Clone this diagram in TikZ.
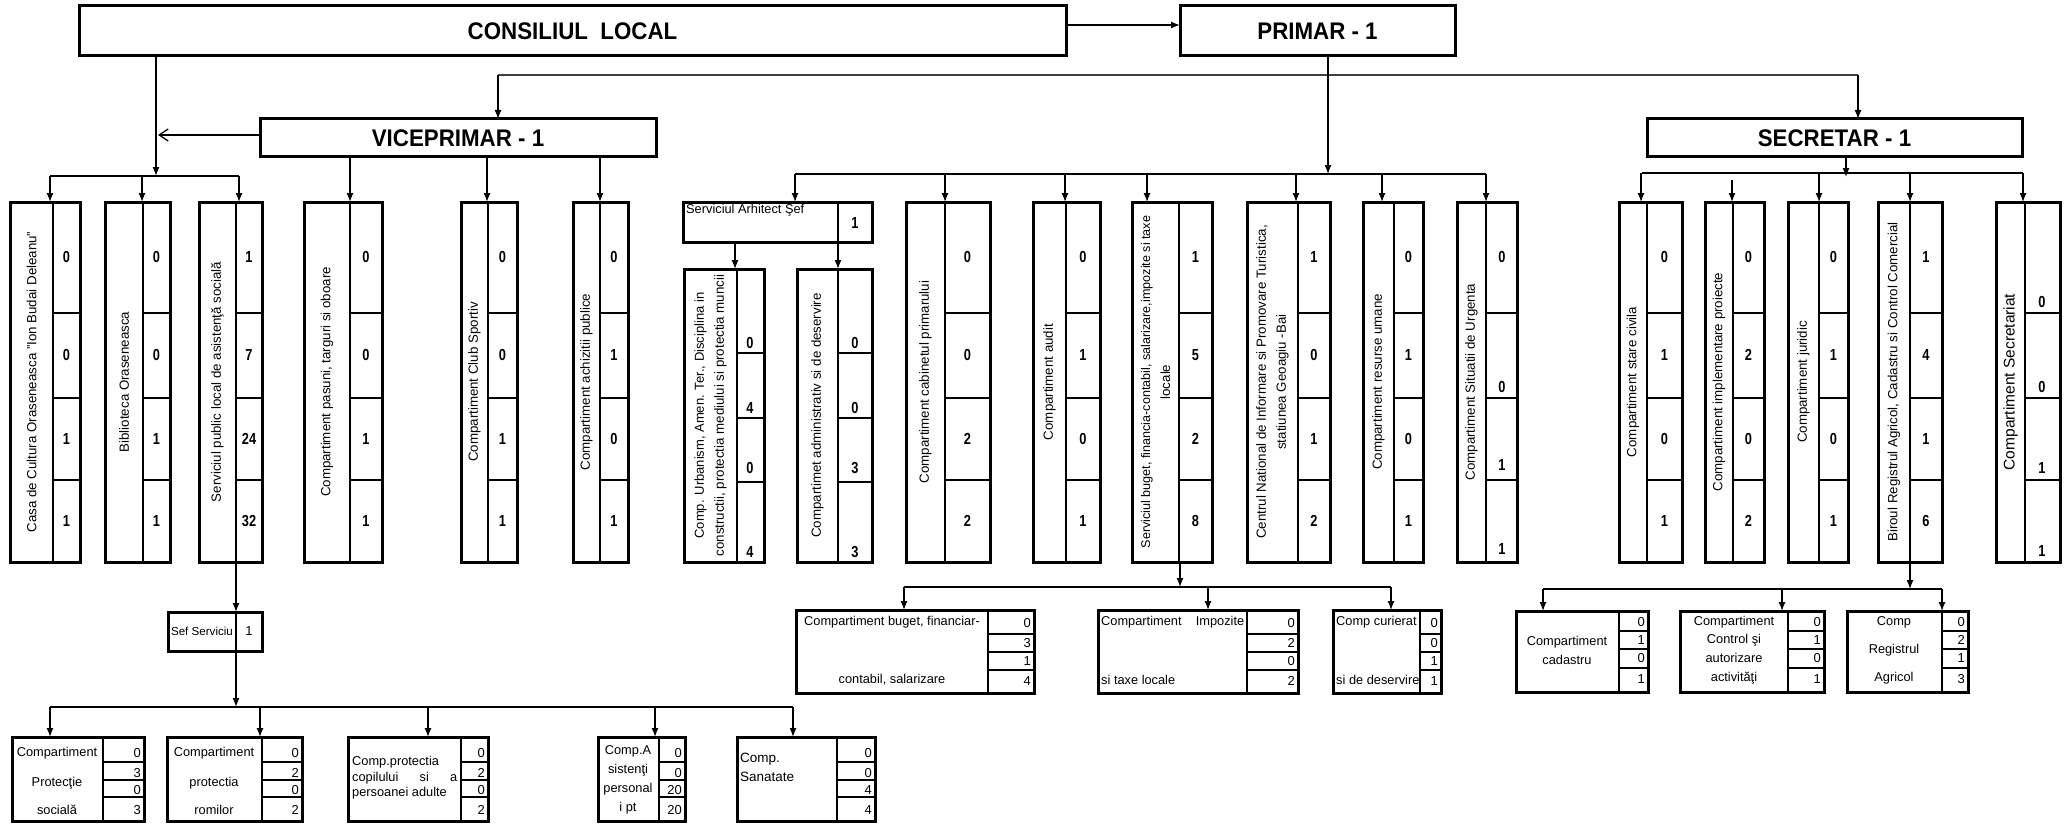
\documentclass[tikz,border=0pt]{standalone}
\usepackage{fontspec}
\setmainfont{Liberation Sans}
\newfontfamily\hdfont[FakeStretch=0.93]{Liberation Sans}
\newfontfamily\nbfont[FakeStretch=0.8]{Liberation Sans}
\usetikzlibrary{arrows.meta,fit}
\tikzset{
 frame/.style={draw, line width=3pt, inner sep=0pt, outer sep=0pt},
 divl/.style={line width=2.5pt},
 midl/.style={line width=1.8pt},
 thinl/.style={line width=1.1pt},
 conn/.style={line width=1.3pt},
 arr/.style={conn, -{Latex[length=9pt,width=7pt]}},
 openarr/.style={conn, -{Straight Barb[length=9pt,width=12pt]}},
 vtext/.style={rotate=90, align=center, inner sep=0pt, font=\fontsize{13.3}{20}\selectfont},
 bnum/.style={inner sep=0pt, font=\nbfont\bfseries\fontsize{16}{18}\selectfont},
 snum/.style={inner sep=0pt, anchor=east, font=\fontsize{13}{15}\selectfont},
 stxt/.style={inner sep=0pt, font=\fontsize{12.8}{15}\selectfont},
 stxtw/.style={stxt, anchor=west},
 hdtxt/.style={inner sep=0pt, font=\hdfont\bfseries\fontsize{24}{28}\selectfont},
}
% vertical box: name, xL, xD, xR, yT, yB, x of incoming arrow, text
\newcommand\vb[8]{%
 \node[frame, fit={(#2,#5)(#4,#6)}] (#1) {};
 \draw[divl] (#3,#5) -- (#3,#6);
 \coordinate (#1-in) at (#7,#5);
 \node[vtext] (#1-t) at ({(#2+#3)/2},{(#5+#6)/2}) {#8};
}
\newcommand\cstd[2]{\draw[divl] (#1,313) -- (#2,313) (#1,398) -- (#2,398) (#1,480) -- (#2,480);}
\newcommand\nstd[7]{%
 \node[bnum] (#1-n1) at ({(#2+#3)/2},257) {#4};
 \node[bnum] (#1-n2) at ({(#2+#3)/2},355) {#5};
 \node[bnum] (#1-n3) at ({(#2+#3)/2},439) {#6};
 \node[bnum] (#1-n4) at ({(#2+#3)/2},521) {#7};
}
% horizontal small box: name, xL, xD, xR, yT, yB, y1, y2, y3
\newcommand\hb[9]{%
 \node[frame, fit={(#2,#5)(#4,#6)}] (#1) {};
 \draw[midl] (#3,#5) -- (#3,#6);
 \draw[thinl] (#3,#7) -- (#4,#7) (#3,#8) -- (#4,#8) (#3,#9) -- (#4,#9);
}
\newcommand\nn[4]{\node[snum] (#1) at (#2,#3) {#4};}
\begin{document}
\begin{tikzpicture}[x=1pt,y=-1pt]
\useasboundingbox[fill=white] (0,0) rectangle (2064,824);

% ---------- top level
\node[frame, fit={(79,6)(1066,56)}] (cl) {};
\node[hdtxt] (cl-t) at (cl.center) {CONSILIUL\ \ LOCAL};
\node[frame, fit={(1180,6)(1455,56)}] (pr) {};
\node[hdtxt] (pr-t) at (pr.center) {PRIMAR - 1};
\node[frame, fit={(260,119)(656,157)}] (vp) {};
\node[hdtxt] (vp-t) at (vp.center) {VICEPRIMAR - 1};
\node[frame, fit={(1647,119)(2022,157)}] (sec) {};
\node[hdtxt] (sec-t) at (sec.center) {SECRETAR - 1};

% ---------- left group (consiliul / viceprimar)
\vb{casa}{10}{53}{80}{202}{562}{50}{Casa de Cultura Oraseneasca "Ion Budai Deleanu"}
\cstd{53}{80}\nstd{casa}{53}{80}{0}{0}{1}{1}
\vb{bibl}{105}{143}{170}{202}{562}{142}{Biblioteca Oraseneasca}
\cstd{143}{170}\nstd{bibl}{143}{170}{0}{0}{1}{1}
\vb{spas}{199}{236}{262}{202}{562}{239}{Serviciul public local de asistenţă socială}
\cstd{236}{262}\nstd{spas}{236}{262}{1}{7}{24}{32}
\vb{pasuni}{304}{350}{382}{202}{562}{350}{Compartiment pasuni, targuri si oboare}
\cstd{350}{382}\nstd{pasuni}{350}{382}{0}{0}{1}{1}
\vb{club}{461}{488}{517}{202}{562}{487}{Compartiment Club Sportiv}
\cstd{488}{517}\nstd{club}{488}{517}{0}{0}{1}{1}
\vb{achiz}{573}{600}{628}{202}{562}{600}{Compartiment achizitii publice}
\cstd{600}{628}\nstd{achiz}{600}{628}{0}{1}{0}{1}

% ---------- primar group
\node[frame, fit={(683,202)(872,242)}] (arh) {};
\draw[divl] (838,202) -- (838,242);
\coordinate (arh-in) at (795,202);
\node[stxt, anchor=north west] (arh-t) at (686,204) {Serviciul Arhitect Şef};
\node[bnum] (arh-n) at (855,223) {1};

\vb{urb}{684}{737}{764}{269}{562}{735}{\fontsize{13}{20}\selectfont Comp. Urbanism, Amen. Ter., Disciplina in\\constructii, protectia mediului si protectia muncii}
\draw[divl] (737,353) -- (764,353) (737,418) -- (764,418) (737,482) -- (764,482);
\node[bnum] (urb-n1) at (750,343) {0};
\node[bnum] (urb-n2) at (750,408) {4};
\node[bnum] (urb-n3) at (750,468) {0};
\node[bnum] (urb-n4) at (750,552) {4};
\vb{adm}{797}{838}{872}{269}{562}{838}{Compartimet administrativ si de deservire}
\draw[divl] (838,353) -- (872,353) (838,418) -- (872,418) (838,482) -- (872,482);
\node[bnum] (adm-n1) at (855,343) {0};
\node[bnum] (adm-n2) at (855,408) {0};
\node[bnum] (adm-n3) at (855,468) {3};
\node[bnum] (adm-n4) at (855,552) {3};

\vb{cab}{906}{945}{990}{202}{562}{945}{Compartiment cabinetul primarului}
\cstd{945}{990}\nstd{cab}{945}{990}{0}{0}{2}{2}
\vb{audit}{1033}{1066}{1100}{202}{562}{1065}{Compartiment audit}
\cstd{1066}{1100}\nstd{audit}{1066}{1100}{0}{1}{0}{1}
\vb{buget}{1132}{1179}{1212}{202}{562}{1147}{\fontsize{12.6}{22}\selectfont Serviciul buget, financia-contabil, salarizare,impozite si taxe\\locale}
\cstd{1179}{1212}\nstd{buget}{1179}{1212}{1}{5}{2}{8}
\vb{cnipt}{1247}{1298}{1330}{202}{562}{1296}{Centrul National de Informare si Promovare Turistica,\\statiunea Geoagiu -Bai}
\cstd{1298}{1330}\nstd{cnipt}{1298}{1330}{1}{0}{1}{2}
\vb{resu}{1363}{1394}{1423}{202}{562}{1382}{Compartiment resurse umane}
\cstd{1394}{1423}\nstd{resu}{1394}{1423}{0}{1}{0}{1}
\vb{situ}{1457}{1486}{1517}{202}{562}{1486}{Compartiment Situatii de Urgenta}
\cstd{1486}{1517}
\node[bnum] (situ-n1) at (1502,257) {0};
\node[bnum] (situ-n2) at (1502,387) {0};
\node[bnum] (situ-n3) at (1502,465) {1};
\node[bnum] (situ-n4) at (1502,549) {1};

% ---------- secretar group
\vb{stciv}{1619}{1647}{1682}{202}{562}{1641}{Compartiment stare civila}
\cstd{1647}{1682}\nstd{stciv}{1647}{1682}{0}{1}{0}{1}
\vb{impl}{1705}{1733}{1764}{202}{562}{1732}{Compartiment implementare proiecte}
\cstd{1733}{1764}\nstd{impl}{1733}{1764}{0}{2}{0}{2}
\vb{jur}{1788}{1819}{1848}{202}{562}{1819}{Compartiment juridic}
\cstd{1819}{1848}\nstd{jur}{1819}{1848}{0}{1}{0}{1}
\vb{birou}{1878}{1910}{1942}{202}{562}{1910}{Biroul Registrul Agricol, Cadastru si Control Comercial}
\cstd{1910}{1942}\nstd{birou}{1910}{1942}{1}{4}{1}{6}
\vb{secr}{1996}{2025}{2060}{202}{562}{2023}{\fontsize{15.5}{18}\selectfont Compartiment Secretariat}
\cstd{2025}{2060}
\node[bnum] (secr-n1) at (2042,302) {0};
\node[bnum] (secr-n2) at (2042,387) {0};
\node[bnum] (secr-n3) at (2042,468) {1};
\node[bnum] (secr-n4) at (2042,551) {1};

% ---------- sef serviciu and its compartments
\node[frame, fit={(168,612)(262,651)}] (sef) {};
\draw[midl] (236,612) -- (236,651);
\coordinate (sef-in) at (236,612);
\node[inner sep=0pt, font=\fontsize{11.6}{14}\selectfont] (sef-t) at (202,631) {Sef Serviciu};
\node[inner sep=0pt, font=\fontsize{13}{15}\selectfont] (sef-n) at (249,631) {1};

\hb{bA}{12}{103}{144}{737}{821}{762}{780}{797}
\coordinate (bA-in) at (50,737);
\node[stxt] (bA-t1) at (57,753) {Compartiment};
\node[stxt] (bA-t2) at (57,783) {Protecţie};
\node[stxt] (bA-t3) at (57,810) {socială};
\nn{bA-n1}{141}{753}{0}\nn{bA-n2}{141}{773}{3}\nn{bA-n3}{141}{790}{0}\nn{bA-n4}{141}{810}{3}

\hb{bB}{167}{262}{302}{737}{821}{762}{780}{797}
\coordinate (bB-in) at (260,737);
\node[stxt] (bB-t1) at (214,753) {Compartiment};
\node[stxt] (bB-t2) at (214,783) {protectia};
\node[stxt] (bB-t3) at (214,810) {romilor};
\nn{bB-n1}{299}{753}{0}\nn{bB-n2}{299}{773}{2}\nn{bB-n3}{299}{790}{0}\nn{bB-n4}{299}{810}{2}

\hb{bC}{348}{461}{488}{737}{821}{762}{780}{797}
\coordinate (bC-in) at (428,737);
\node[stxtw] (bC-t1) at (352,762) {Comp.protectia};
\node[stxtw] (bC-t2) at (352,778) {\makebox[105pt][s]{copilului si a}};
\node[stxtw] (bC-t3) at (352,793) {persoanei adulte};
\nn{bC-n1}{485}{753}{0}\nn{bC-n2}{485}{773}{2}\nn{bC-n3}{485}{790}{0}\nn{bC-n4}{485}{810}{2}

\hb{bD}{598}{659}{685}{737}{821}{762}{780}{797}
\coordinate (bD-in) at (655,737);
\node[stxt] (bD-t1) at (628,751) {Comp.A};
\node[stxt] (bD-t2) at (628,770) {sistenţi};
\node[stxt] (bD-t3) at (628,789) {personal};
\node[stxt] (bD-t4) at (628,808) {i pt};
\nn{bD-n1}{682}{753}{0}\nn{bD-n2}{682}{773}{0}\nn{bD-n3}{682}{790}{20}\nn{bD-n4}{682}{810}{20}

\hb{bE}{737}{837}{875}{737}{821}{762}{780}{797}
\coordinate (bE-in) at (793,737);
\node[stxtw, font=\fontsize{13.5}{16}\selectfont] (bE-t1) at (740,759) {Comp.};
\node[stxtw, font=\fontsize{13.5}{16}\selectfont] (bE-t2) at (740,777) {Sanatate};
\nn{bE-n1}{872}{753}{0}\nn{bE-n2}{872}{773}{0}\nn{bE-n3}{872}{790}{4}\nn{bE-n4}{872}{810}{4}

% ---------- buget compartments
\hb{cA}{796}{988}{1034}{610}{693}{634}{652}{670}
\coordinate (cA-in) at (904,610);
\node[stxt] (cA-t1) at (892,622) {Compartiment buget, financiar-};
\node[stxt] (cA-t2) at (892,680) {contabil, salarizare};
\nn{cA-n1}{1031}{623}{0}\nn{cA-n2}{1031}{643}{3}\nn{cA-n3}{1031}{661}{1}\nn{cA-n4}{1031}{681}{4}

\hb{cB}{1098}{1247}{1298}{610}{693}{634}{652}{670}
\coordinate (cB-in) at (1208,610);
\node[stxtw] (cB-t1) at (1101,622) {\makebox[143pt][s]{Compartiment Impozite}};
\node[stxtw] (cB-t2) at (1101,680) {si taxe locale};
\nn{cB-n1}{1295}{623}{0}\nn{cB-n2}{1295}{643}{2}\nn{cB-n3}{1295}{661}{0}\nn{cB-n4}{1295}{681}{2}

\hb{cC}{1333}{1420}{1441}{610}{693}{634}{652}{670}
\coordinate (cC-in) at (1391,610);
\node[stxtw] (cC-t1) at (1336,622) {Comp curierat};
\node[stxtw] (cC-t2) at (1336,680) {si de deservire};
\nn{cC-n1}{1438}{623}{0}\nn{cC-n2}{1438}{643}{0}\nn{cC-n3}{1438}{661}{1}\nn{cC-n4}{1438}{681}{1}

% ---------- birou compartments
\hb{dA}{1516}{1619}{1648}{611}{692}{631}{649}{668}
\coordinate (dA-in) at (1543,611);
\node[stxt] (dA-t1) at (1567,642) {Compartiment};
\node[stxt] (dA-t2) at (1567,660) {cadastru};
\nn{dA-n1}{1645}{622}{0}\nn{dA-n2}{1645}{640}{1}\nn{dA-n3}{1645}{658}{0}\nn{dA-n4}{1645}{679}{1}

\hb{dB}{1680}{1788}{1824}{611}{692}{631}{649}{668}
\coordinate (dB-in) at (1782,611);
\node[stxt] (dB-t1) at (1734,622) {Compartiment};
\node[stxt] (dB-t2) at (1734,640) {Control şi};
\node[stxt] (dB-t3) at (1734,658) {autorizare};
\node[stxt] (dB-t4) at (1734,678) {activităţi};
\nn{dB-n1}{1821}{622}{0}\nn{dB-n2}{1821}{640}{1}\nn{dB-n3}{1821}{658}{0}\nn{dB-n4}{1821}{679}{1}

\hb{dC}{1847}{1942}{1968}{611}{692}{631}{649}{668}
\coordinate (dC-in) at (1942,611);
\node[stxt] (dC-t1) at (1894,622) {Comp};
\node[stxt] (dC-t2) at (1894,650) {Registrul};
\node[stxt] (dC-t3) at (1894,678) {Agricol};
\nn{dC-n1}{1965}{622}{0}\nn{dC-n2}{1965}{640}{2}\nn{dC-n3}{1965}{658}{1}\nn{dC-n4}{1965}{679}{3}

% ---------- connectors
\coordinate (cpr) at (1066,25);
\draw[arr] (cpr) -- (cpr -| pr.west);
\coordinate (tl) at (498,75);
\coordinate (tr) at (1858,75);
\draw[conn, black!75] (tl) -- (tr);
\draw[arr] (tl) -- (tl |- vp.north);
\draw[arr] (tr) -- (tr |- sec.north);
\coordinate (pbar) at (1328,174);
\draw[arr] (pr.south -| pbar) -- (pbar);
\coordinate (lbar) at (156,176);
\draw[arr] (cl.south -| lbar) -- (lbar);
\coordinate (vl) at (158,135);
\draw[openarr] (vp.west |- vl) -- (vl);

\draw[conn] (casa-in |- lbar) -- (spas-in |- lbar);
\foreach \b in {casa,bibl,spas} \draw[arr] (\b-in |- lbar) -- (\b-in);
\foreach \b in {pasuni,club,achiz} \draw[arr] (\b-in |- vp.south) -- (\b-in);

\draw[conn] (arh-in |- pbar) -- (situ-in |- pbar);
\foreach \b in {arh,cab,audit,buget,cnipt,resu,situ} \draw[arr] (\b-in |- pbar) -- (\b-in);
\draw[arr] (urb-in |- arh.south) -- (urb-in);
\draw[arr] (adm-in |- arh.south) -- (adm-in);

\coordinate (sbar) at (1846,173);
\coordinate (stip) at (1846,177);
\draw[arr] (sec.south -| stip) -- (stip);
\draw[conn] (1642,173) -- (secr-in |- sbar);
\foreach \b in {stciv,jur,birou,secr} \draw[arr] (\b-in |- sbar) -- (\b-in);
\coordinate (implfree) at (1732,180);
\draw[arr] (implfree) -- (impl-in);

\draw[arr] (spas.south -| sef-in) -- (sef-in);
\coordinate (bbar) at (236,707);
\draw[arr] (sef.south -| bbar) -- (bbar);
\draw[conn] (bA-in |- bbar) -- (bE-in |- bbar);
\foreach \b in {bA,bB,bC,bD,bE} \draw[arr] (\b-in |- bbar) -- (\b-in);

\coordinate (gbar) at (1180,587);
\draw[arr] (buget.south -| gbar) -- (gbar);
\draw[conn] (cA-in |- gbar) -- (cC-in |- gbar);
\foreach \b in {cA,cB,cC} \draw[arr] (\b-in |- gbar) -- (\b-in);

\coordinate (dbar) at (1910,589);
\draw[arr] (birou.south -| dbar) -- (dbar);
\draw[conn] (dA-in |- dbar) -- (dC-in |- dbar);
\foreach \b in {dA,dB,dC} \draw[arr] (\b-in |- dbar) -- (\b-in);
\end{tikzpicture}
\end{document}
